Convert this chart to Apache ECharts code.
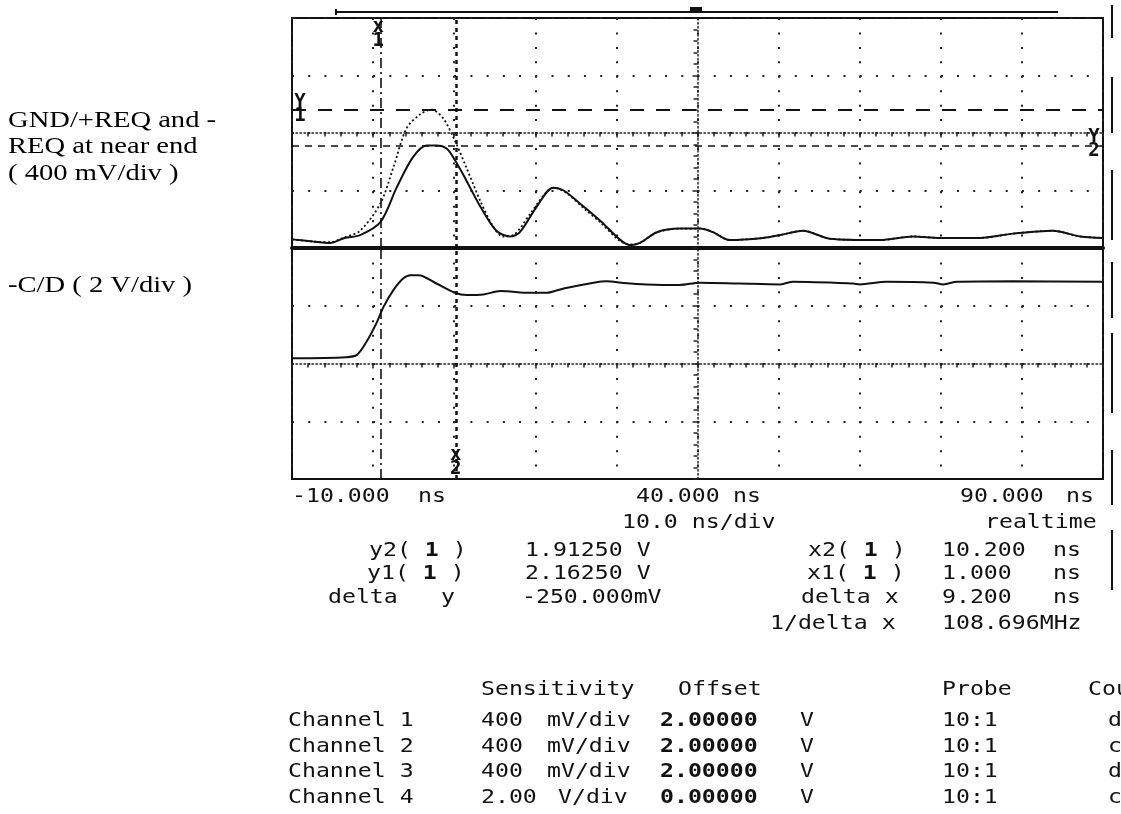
<!DOCTYPE html>
<html>
<head>
<meta charset="utf-8">
<title>GND/+REQ and -REQ at near end</title>
<script src="https://cdn.jsdelivr.net/npm/echarts@6.0.0/dist/echarts.min.js"></script>
<style>
  html, body { margin: 0; padding: 0; background: #fff; }
  #main { width: 1121px; height: 814px; }
</style>
</head>
<body>
<div id="main"></div>
<script>
// time base (ns), 10 ns/div
const timeMin = -10
const timeMax = 90
const timeTickLabels = ['-10.000', '40.000', '90.000']

// channel 1/2 window: 400 mV/div, offset 2 V
const reqMin = 1.2
const reqMax = 2.8
// channel 4 window: 2 V/div, offset 0 V
const cdMin = -4
const cdMax = 4

// [ns, V]
const reqDotted = [
  [-10, 1.26], [-7.4, 1.245], [-5.3, 1.24], [-3.5, 1.275], [-1.6, 1.32], [0.9, 1.51],
  [2.5, 1.76], [4.1, 2.03], [5.8, 2.13], [7.2, 2.1625], [8.6, 2.105], [10.1, 1.945],
  [11.5, 1.76], [13.2, 1.53], [14.8, 1.35], [16.0, 1.28], [17.3, 1.29], [19.4, 1.44],
  [21.4, 1.59], [22.4, 1.62], [23.9, 1.58], [26.3, 1.46], [28.0, 1.38], [30.4, 1.25],
  [31.7, 1.225], [32.9, 1.235], [35.0, 1.31], [37.8, 1.335], [40.3, 1.335], [41.9, 1.31],
  [44.0, 1.255], [48.1, 1.27], [50.2, 1.29], [53.0, 1.32], [56.3, 1.265], [62.5, 1.255],
  [66.6, 1.28], [69.9, 1.27], [74.8, 1.27], [78.9, 1.3], [83.8, 1.32], [87.2, 1.28], [90, 1.27]
]
const reqSolid = [
  [-10, 1.26], [-7.4, 1.245], [-5.3, 1.235], [-3.5, 1.27], [-1.6, 1.29], [0.9, 1.38],
  [2.9, 1.62], [4.9, 1.83], [6.6, 1.9125], [7.8, 1.9125], [9.1, 1.89], [10.1, 1.81],
  [11.5, 1.67], [13.2, 1.49], [15.2, 1.32], [16.9, 1.28], [18.1, 1.31], [20.2, 1.49],
  [22.2, 1.62], [23.5, 1.6], [25.5, 1.51], [28.0, 1.39], [30.4, 1.26], [31.7, 1.22],
  [32.9, 1.235], [35.0, 1.31], [37.8, 1.335], [40.3, 1.335], [41.9, 1.31], [44.0, 1.255],
  [48.1, 1.27], [50.2, 1.29], [53.0, 1.32], [56.3, 1.265], [62.5, 1.255], [66.6, 1.28],
  [69.9, 1.27], [74.8, 1.27], [78.9, 1.3], [83.8, 1.32], [87.2, 1.28], [90, 1.27]
]
const cdTrace = [
  [-10, 0.18], [-3.3, 0.22], [-2.0, 0.3], [-0.8, 0.76], [0.4, 1.39], [1.3, 1.97],
  [2.5, 2.54], [3.7, 2.94], [4.6, 3.06], [5.6, 3.06], [7.8, 2.77], [10.1, 2.45],
  [11.5, 2.37], [13.6, 2.39], [15.7, 2.51], [19.4, 2.45], [21.4, 2.45], [23.5, 2.6],
  [27.2, 2.8], [28.8, 2.85], [30.9, 2.79], [33.7, 2.74], [37.8, 2.72], [40.3, 2.8],
  [45.2, 2.77], [50.2, 2.74], [51.8, 2.83], [59.2, 2.77], [60.0, 2.74], [63.3, 2.83],
  [69.1, 2.8], [70.3, 2.74], [72.0, 2.83], [78.9, 2.85], [90, 2.83]
]

// cursors
const cursorX1 = 1.0
const cursorX2 = 10.2
const cursorY1 = 2.1625
const cursorY2 = 1.9125

// readouts
const readoutY = [['y2', '1.91250 V'], ['y1', '2.16250 V'], ['delta y', '-250.000mV']]
const readoutX = [['x2', '10.200', 'ns'], ['x1', '1.000', 'ns'], ['delta x', '9.200', 'ns'], ['1/delta x', '108.696MHz', '']]

// channel table
const tableHeader = ['Sensitivity', 'Offset', 'Probe', 'Cou']
const channelNames = ['Channel 1', 'Channel 2', 'Channel 3', 'Channel 4']
const sensValues = ['400', '400', '400', '2.00']
const sensUnits = ['mV/div', 'mV/div', 'mV/div', 'V/div']
const offsetValues = ['2.00000', '2.00000', '2.00000', '0.00000']
const probeValues = ['10:1', '10:1', '10:1', '10:1']
const couplingValues = ['d', 'c', 'd', 'c']

const sideLabels = ['GND/+REQ and -\nREQ at near end\n( 400 mV/div )', '-C/D ( 2 V/div )']

const ink = '#111'
const mono = '"DejaVu Sans Mono", "Liberation Mono", monospace'

let chart = echarts.init(document.getElementById('main'))

function txt(str, x, y, extra) {
  return {
    type: 'text', x: x, y: y, scaleX: 1.22, silent: true,
    style: Object.assign({
      text: str, fill: ink, fontFamily: mono, fontSize: 19, verticalAlign: 'middle',
      rich: {
        b: { fontWeight: 'bold', fontSize: 19, fontFamily: mono, fill: ink }
      }
    }, extra || {})
  }
}
function cur(name) {
  return name + '( {b|1} )'
}

let graphic = []
// time labels under the screen
graphic.push(txt(timeTickLabels[0], 292, 497), txt('ns', 418, 497))
graphic.push(txt(timeTickLabels[1], 636, 497), txt('ns', 733, 497))
graphic.push(txt(timeTickLabels[2], 960, 497), txt('ns', 1066, 497))
graphic.push(txt('10.0 ns/div', 622, 523), txt('realtime', 985, 523))

// cursor readouts
const readRowsY = [551, 574, 598, 624]
graphic.push(txt(cur(readoutY[0][0]), 369, readRowsY[0]), txt(readoutY[0][1], 525, readRowsY[0]))
graphic.push(txt(cur(readoutY[1][0]), 367, readRowsY[1]), txt(readoutY[1][1], 525, readRowsY[1]))
graphic.push(txt(readoutY[2][0].split(' ')[0], 328, readRowsY[2]), txt(readoutY[2][0].split(' ')[1], 441, readRowsY[2]))
graphic.push(txt(readoutY[2][1], 522, readRowsY[2]))
graphic.push(txt(cur(readoutX[0][0]), 808, readRowsY[0]))
graphic.push(txt(cur(readoutX[1][0]), 807, readRowsY[1]))
graphic.push(txt(readoutX[2][0], 801, readRowsY[2]))
graphic.push(txt(readoutX[3][0], 770, readRowsY[3]))
readoutX.forEach((r, i) => {
  graphic.push(txt(r[1], 942, readRowsY[i]))
  if (r[2]) graphic.push(txt(r[2], 1053, readRowsY[i]))
})

// channel table
const headX = [481, 678, 942, 1088]
tableHeader.forEach((h, i) => graphic.push(txt(h, headX[i], 690)))
const rowY = [721, 747, 772, 798]
channelNames.forEach((n, i) => {
  graphic.push(txt(n, 288, rowY[i]))
  graphic.push(txt(sensValues[i], 481, rowY[i]))
  graphic.push(txt(sensUnits[i], i === 3 ? 558 : 547, rowY[i]))
  graphic.push(txt(offsetValues[i], 660, rowY[i], { fontWeight: 'bold' }))
  graphic.push(txt('V', 800, rowY[i]))
  graphic.push(txt(probeValues[i], 942, rowY[i]))
  graphic.push(txt(couplingValues[i], 1108, rowY[i]))
})

// labels on the left
const serif = '"Liberation Serif", "Times New Roman", serif'
graphic.push({
  type: 'text', x: 8, y: 107, scaleX: 1.19, silent: true,
  style: { text: sideLabels[0], fill: '#000', fontFamily: serif, fontSize: 24, lineHeight: 26.5 }
})
graphic.push({
  type: 'text', x: 8, y: 272, scaleX: 1.19, silent: true,
  style: { text: sideLabels[1], fill: '#000', fontFamily: serif, fontSize: 24, lineHeight: 26.5 }
})

// record bar above the screen and channel bars at the right
graphic.push({ type: 'line', silent: true, shape: { x1: 336, y1: 12, x2: 1058, y2: 12 }, style: { stroke: ink, lineWidth: 2 } })
graphic.push({ type: 'line', silent: true, shape: { x1: 336, y1: 9, x2: 336, y2: 15 }, style: { stroke: ink, lineWidth: 2 } })
graphic.push({ type: 'rect', silent: true, shape: { x: 690, y: 7, width: 12, height: 6 }, style: { fill: ink } })
const sideBars = [[5, 38], [77, 133], [170, 240], [262, 318], [333, 413], [450, 505], [530, 590]]
sideBars.forEach(b => graphic.push({
  type: 'line', silent: true, shape: { x1: 1112, y1: b[0], x2: 1112, y2: b[1] }, style: { stroke: ink, lineWidth: 2 }
}))

const dotsV = { color: '#222', width: 2, type: [2, 12.44] }
const dotsH = { color: '#222', width: 2, type: [2, 14.22] }
const centerLine = { color: '#222', width: 1.5, type: [1.5, 2.5] }

function mainX(grid, lineW) {
  return {
    gridIndex: grid, type: 'value', min: timeMin, max: timeMax, interval: 10,
    axisLabel: { show: false }, axisTick: { show: false },
    axisLine: { show: true, onZero: false, lineStyle: { color: ink, width: lineW } },
    splitLine: { show: true, lineStyle: dotsV }
  }
}
function centerX(grid) {
  return {
    gridIndex: grid, type: 'value', min: timeMin, max: timeMax, interval: 10,
    position: 'bottom', offset: -115.5,
    axisLabel: { show: false },
    axisLine: { show: true, onZero: false, lineStyle: centerLine },
    axisTick: { show: true, length: 5, lineStyle: { color: '#222', width: 1.5 } },
    minorTick: { show: true, splitNumber: 5, length: 4, lineStyle: { color: '#222', width: 1.5 } },
    splitLine: { show: false }
  }
}
function mainY(grid, min, max, step) {
  return {
    gridIndex: grid, type: 'value', min: min, max: max, interval: step,
    axisLabel: { show: false }, axisTick: { show: false },
    axisLine: { show: false, onZero: false },
    splitLine: { show: true, lineStyle: dotsH }
  }
}
function centerY(grid, min, max, step) {
  return {
    gridIndex: grid, type: 'value', min: min, max: max, interval: step,
    position: 'left', offset: -405.5,
    axisLabel: { show: false },
    axisLine: { show: true, onZero: false, lineStyle: centerLine },
    axisTick: { show: true, length: 5, lineStyle: { color: '#222', width: 1.5 } },
    minorTick: { show: true, splitNumber: 5, length: 4, lineStyle: { color: '#222', width: 1.5 } },
    splitLine: { show: false }
  }
}

const markerLabel = {
  show: true, position: 'inside', color: ink, fontFamily: mono, fontWeight: 'bold',
  fontSize: 19, lineHeight: 14
}
const cursorX1Style = { color: ink, width: 1.6, type: [10, 4, 2, 4] }
const cursorX2Style = { color: ink, width: 2.5, type: [4, 4] }

let options = {
  animation: false,
  backgroundColor: '#fff',
  grid: [
    { left: 292, top: 18, width: 811, height: 230, show: true, borderColor: ink, borderWidth: 2 },
    { left: 292, top: 248, width: 811, height: 231, show: true, borderColor: ink, borderWidth: 2 }
  ],
  xAxis: [mainX(0, 4), centerX(0), mainX(1, 2), centerX(1)],
  yAxis: [mainY(0, reqMin, reqMax, 0.4), centerY(0, reqMin, reqMax, 0.4),
          mainY(1, cdMin, cdMax, 2), centerY(1, cdMin, cdMax, 2)],
  graphic: graphic,
  series: [
    {
      name: 'REQ dotted', type: 'line', xAxisIndex: 0, yAxisIndex: 0, data: reqDotted,
      showSymbol: false, smooth: 0.3, silent: true,
      lineStyle: { color: ink, width: 1.8, type: [2, 2.5] }
    },
    {
      name: 'REQ solid', type: 'line', xAxisIndex: 0, yAxisIndex: 0, data: reqSolid,
      showSymbol: false, smooth: 0.3, silent: true,
      lineStyle: { color: ink, width: 2 },
      markLine: {
        silent: true, symbol: ['none', 'none'], label: { show: false },
        data: [
          { xAxis: cursorX1, lineStyle: cursorX1Style },
          { xAxis: cursorX2, lineStyle: cursorX2Style },
          { yAxis: cursorY1, lineStyle: { color: ink, width: 2, type: [14, 12] } },
          { yAxis: cursorY2, lineStyle: { color: ink, width: 1.6, type: [7, 6] } }
        ]
      },
      markPoint: {
        silent: true, symbol: 'circle', symbolSize: 1,
        itemStyle: { color: 'transparent' },
        label: markerLabel,
        data: [
          { coord: [cursorX1, reqMax], label: { formatter: 'x\n1', offset: [-3, 16] } },
          { coord: [timeMin, cursorY1], label: { formatter: 'Y\n1', offset: [8, -1] } },
          { coord: [timeMax, cursorY2], label: { formatter: 'Y\n2', offset: [-9, -2] } }
        ]
      }
    },
    {
      name: '-C/D', type: 'line', xAxisIndex: 2, yAxisIndex: 2, data: cdTrace,
      showSymbol: false, smooth: 0.3, silent: true,
      lineStyle: { color: ink, width: 2 },
      markLine: {
        silent: true, symbol: ['none', 'none'], label: { show: false },
        data: [
          { xAxis: cursorX1, lineStyle: cursorX1Style },
          { xAxis: cursorX2, lineStyle: cursorX2Style }
        ]
      },
      markPoint: {
        silent: true, symbol: 'circle', symbolSize: 1,
        itemStyle: { color: 'transparent' },
        label: markerLabel,
        data: [
          { coord: [cursorX2, cdMin], label: { formatter: 'x\n2', offset: [0, -17] } }
        ]
      }
    }
  ]
}
options && chart.setOption(options)
</script>
</body>
</html>
